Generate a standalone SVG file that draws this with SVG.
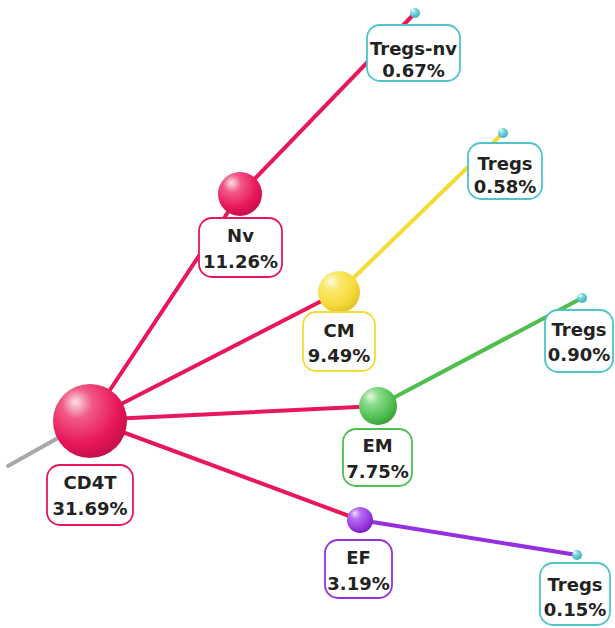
<svg xmlns="http://www.w3.org/2000/svg" width="615" height="628" viewBox="0 0 615 628">
<defs>
<radialGradient id="gPink" cx="0.38" cy="0.32" r="0.68" fx="0.3" fy="0.24">
<stop offset="0" stop-color="#fde0ea"/><stop offset="0.3" stop-color="#f15a86"/><stop offset="0.75" stop-color="#e8175a"/><stop offset="1" stop-color="#c9104c"/>
</radialGradient>
<radialGradient id="gYellow" cx="0.38" cy="0.32" r="0.68" fx="0.3" fy="0.24">
<stop offset="0" stop-color="#fffbe0"/><stop offset="0.3" stop-color="#fbe870"/><stop offset="0.75" stop-color="#f5db3c"/><stop offset="1" stop-color="#e2c52a"/>
</radialGradient>
<radialGradient id="gGreen" cx="0.38" cy="0.32" r="0.68" fx="0.3" fy="0.24">
<stop offset="0" stop-color="#e6f8e6"/><stop offset="0.3" stop-color="#8ddc8d"/><stop offset="0.75" stop-color="#52c052"/><stop offset="1" stop-color="#3aa53a"/>
</radialGradient>
<radialGradient id="gPurple" cx="0.38" cy="0.32" r="0.68" fx="0.3" fy="0.24">
<stop offset="0" stop-color="#f0dcfc"/><stop offset="0.3" stop-color="#b670ee"/><stop offset="0.75" stop-color="#9a3ae0"/><stop offset="1" stop-color="#7c22c0"/>
</radialGradient>
<radialGradient id="gCyan" cx="0.38" cy="0.32" r="0.68" fx="0.3" fy="0.24">
<stop offset="0" stop-color="#e6fbfd"/><stop offset="0.4" stop-color="#7fd6de"/><stop offset="1" stop-color="#3fb0bc"/>
</radialGradient>
</defs>
<style>
.ln{stroke-width:4;fill:none;stroke-linecap:round}
.pk{stroke:#e8175a}.ye{stroke:#f4dc34}.gr{stroke:#4cbf4c}.pu{stroke:#9530e0}.gy{stroke:#a8a8a8}
.box{fill:#fff;stroke-width:1.8}
.bpk{stroke:#e8175a}.bye{stroke:#f4dc34}.bgr{stroke:#4cbf4c}.bpu{stroke:#9530e0}.bcy{stroke:#4fc3cc}
text{font-family:"DejaVu Sans","Liberation Sans",sans-serif;font-weight:bold;font-size:18px;fill:#222;text-anchor:middle}
</style>
<g id="connectors">
<line class="ln gy" x1="8" y1="466" x2="90" y2="420"/>
<line class="ln pk" x1="90" y1="420" x2="240" y2="194"/>
<line class="ln pk" x1="240" y1="194" x2="415" y2="13"/>
<line class="ln pk" x1="90" y1="420" x2="339" y2="292"/>
<line class="ln ye" x1="339" y1="292" x2="503" y2="133"/>
<line class="ln pk" x1="90" y1="420" x2="378" y2="406"/>
<line class="ln gr" x1="378" y1="406" x2="582" y2="298"/>
<line class="ln pk" x1="90" y1="420" x2="360" y2="520"/>
<line class="ln pu" x1="360" y1="520" x2="577" y2="555"/>
</g>
<g id="CD4T">
<circle cx="90" cy="421" r="37" fill="url(#gPink)"/>
<rect class="box bpk" x="47" y="465" width="86" height="60" rx="13"/>
<text x="90" y="489">CD4T</text><text x="90" y="515">31.69%</text>
</g>
<g id="Nv">
<circle cx="240" cy="194" r="22" fill="url(#gPink)"/>
<rect class="box bpk" x="199" y="218" width="83" height="59" rx="13"/>
<text x="240.5" y="242">Nv</text><text x="240.5" y="268">11.26%</text>
</g>
<g id="CM">
<circle cx="339" cy="292" r="21" fill="url(#gYellow)"/>
<rect class="box bye" x="303" y="312" width="72" height="59" rx="13"/>
<text x="339" y="337">CM</text><text x="339" y="362">9.49%</text>
</g>
<g id="EM">
<circle cx="378" cy="406" r="19" fill="url(#gGreen)"/>
<rect class="box bgr" x="343" y="429" width="69" height="57" rx="13"/>
<text x="377.5" y="452">EM</text><text x="377.5" y="478">7.75%</text>
</g>
<g id="EF">
<circle cx="360" cy="520" r="13" fill="url(#gPurple)"/>
<rect class="box bpu" x="325" y="540" width="67" height="58" rx="13"/>
<text x="358.5" y="564">EF</text><text x="358.5" y="590">3.19%</text>
</g>
<g id="Tregs-nv">
<circle cx="415" cy="13" r="5" fill="url(#gCyan)"/>
<rect class="box bcy" x="367" y="25" width="93" height="56" rx="13"/>
<text x="413.5" y="55">Tregs-nv</text><text x="413.5" y="77">0.67%</text>
</g>
<g id="Tregs-CM">
<circle cx="503" cy="133" r="5" fill="url(#gCyan)"/>
<rect class="box bcy" x="468" y="143" width="74" height="56" rx="13"/>
<text x="505" y="170">Tregs</text><text x="505" y="193">0.58%</text>
</g>
<g id="Tregs-EM">
<circle cx="582" cy="298" r="5" fill="url(#gCyan)"/>
<rect class="box bcy" x="545" y="310" width="68" height="62" rx="13"/>
<text x="579" y="336">Tregs</text><text x="579" y="361">0.90%</text>
</g>
<g id="Tregs-EF">
<circle cx="577" cy="555" r="5" fill="url(#gCyan)"/>
<rect class="box bcy" x="540" y="563" width="70" height="62" rx="13"/>
<text x="575" y="591">Tregs</text><text x="575" y="616">0.15%</text>
</g>
</svg>
